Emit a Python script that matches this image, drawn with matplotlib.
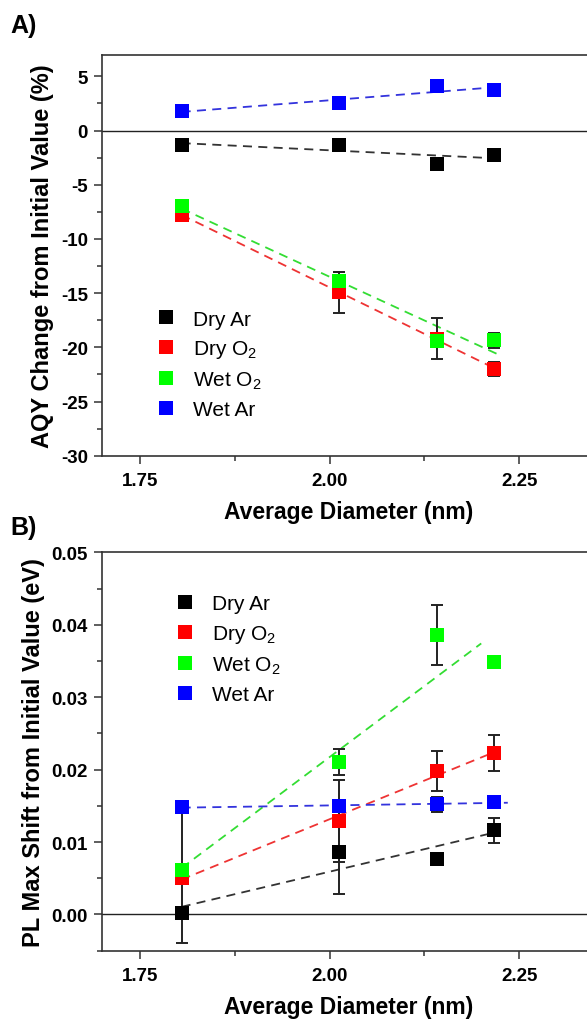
import numpy as np
import matplotlib
matplotlib.use("Agg")
import matplotlib.pyplot as plt
from matplotlib.ticker import MultipleLocator, FormatStrFormatter

plt.rcParams['font.family'] = ['Liberation Sans', 'DejaVu Sans']
plt.rcParams['mathtext.fontset'] = 'custom'
plt.rcParams['mathtext.rm'] = 'Liberation Sans'
plt.rcParams['mathtext.it'] = 'Liberation Sans:italic'
plt.rcParams['mathtext.bf'] = 'Liberation Sans:bold'
plt.rcParams['axes.unicode_minus'] = False

# ---------------- data ----------------
diameter = [1.805, 2.012, 2.142, 2.217]
labels = ["Dry Ar", "Dry O$_2$", "Wet O$_2$", "Wet Ar"]
colors = ["#000000", "#ff0000", "#00ff00", "#0000ff"]
line_colors = ["#333333", "#ee3333", "#33dd33", "#3333dd"]

# Panel A: AQY change (%)
dry_ar_a = [-1.30, -1.30, -3.06, -2.22]
dry_o2_a = [-7.78, -14.94, -19.20, -22.00]
wet_o2_a = [-6.94, -13.90, -19.44, -19.35]
wet_ar_a = [1.79, 2.53, 4.10, 3.73]
dry_ar_a_err = [0.15, 0.15, 0.15, 0.15]
dry_o2_a_err = [0.3, 1.85, 1.9, 0.6]
wet_o2_a_err = [0.3, 0.85, 0.3, 0.7]
wet_ar_a_err = [0.0, 0.0, 0.0, 0.0]

# Panel B: PL max shift (eV)
dry_ar_b = [0.0002, 0.0086, 0.0076, 0.0116]
dry_o2_b = [0.0051, 0.0129, 0.0198, 0.0223]
wet_o2_b = [0.0062, 0.0210, 0.0386, 0.0349]
wet_ar_b = [0.0148, 0.0150, 0.0152, 0.0155]
dry_ar_b_err = [0.0041, 0.0058, 0.0003, 0.0017]
dry_o2_b_err = [0.0005, 0.0056, 0.0028, 0.0025]
wet_o2_b_err = [0.0005, 0.0018, 0.0041, 0.0005]
wet_ar_b_err_lo = [0.0106, 0.0006, 0.0010, 0.0005]
wet_ar_b_err_hi = [0.0, 0.0006, 0.0010, 0.0005]

# x-extent of the dashed linear-fit lines (start, end) per series
fit_range_a = [(1.805, 2.217), (1.805, 2.217), (1.805, 2.222), (1.805, 2.217)]
fit_range_b = [(1.805, 2.217), (1.805, 2.217), (1.805, 2.200), (1.805, 2.235)]

panel_a = [dry_ar_a, dry_o2_a, wet_o2_a, wet_ar_a]
panel_a_err = [dry_ar_a_err, dry_o2_a_err, wet_o2_a_err, wet_ar_a_err]
panel_b = [dry_ar_b, dry_o2_b, wet_o2_b, wet_ar_b]
panel_b_err = [dry_ar_b_err, dry_o2_b_err, wet_o2_b_err,
               [wet_ar_b_err_lo, wet_ar_b_err_hi]]

W, H = 587, 1020
fig = plt.figure(figsize=(W / 100, H / 100), dpi=100)

def px_axes(left, top, right, bottom):
    return fig.add_axes([left / W, 1 - bottom / H, (right - left) / W, (bottom - top) / H])

axA = px_axes(102, 55.7, 595, 456.7)
axB = px_axes(102, 553.3, 595, 951.7)

def draw(ax, series, errs, fit_ranges, ylim, ymaj, ymin, yfmt, ylabel, leg_anchor):
    x = np.array(diameter)
    ax.axhline(0, color="#222222", lw=1.0, zorder=1)
    handles = []
    for vals, err, fr, c, lc, lab in zip(series, errs, fit_ranges, colors, line_colors, labels):
        y = np.array(vals)
        p = np.polyfit(x, y, 1)
        xf = np.array(fr)
        ax.plot(xf, np.polyval(p, xf), ls=(0, (5, 3.5)), color=lc, lw=1.3, zorder=2)
        ax.errorbar(x, y, yerr=err, fmt='none', ecolor="#222222", elinewidth=1.4,
                    capsize=4, capthick=1.4, zorder=3)
        h, = ax.plot(x, y, 's', color=c, markersize=9.5, markeredgewidth=0, zorder=4, label=lab)
        handles.append(h)
    ax.set_xlim(1.70, 2.35)
    ax.set_ylim(*ylim)
    ax.xaxis.set_major_locator(MultipleLocator(0.25))
    ax.xaxis.set_minor_locator(MultipleLocator(0.125))
    ax.yaxis.set_major_locator(MultipleLocator(ymaj))
    ax.yaxis.set_minor_locator(MultipleLocator(ymin))
    ax.xaxis.set_major_formatter(FormatStrFormatter('%.2f'))
    ax.yaxis.set_major_formatter(FormatStrFormatter(yfmt))
    ax.tick_params(which='both', direction='out', top=False, right=False, width=1.1, color="#333333")
    ax.tick_params(which='major', length=6, labelsize=13.5, pad=4)
    ax.tick_params(axis='x', which='major', pad=6)
    ax.tick_params(which='minor', length=3.5)
    for t in ax.get_xticklabels() + ax.get_yticklabels():
        t.set_fontweight('bold')
    for s in ['left', 'bottom', 'top']:
        ax.spines[s].set_linewidth(1.2)
        ax.spines[s].set_color("#333333")
    ax.spines['right'].set_visible(False)
    ax.set_xlabel("Average Diameter (nm)", fontsize=16.5, fontweight='bold', labelpad=8)
    ax.set_ylabel(ylabel, fontsize=17, fontweight='bold', labelpad=5)
    ax.legend(handles=handles, loc='upper left', bbox_to_anchor=leg_anchor,
              frameon=False, fontsize=15, handlelength=0.8, handletextpad=0.9,
              labelspacing=0.45, borderaxespad=0)
    return ax

draw(axA, panel_a, panel_a_err, fit_range_a, (-30, 7), 5, 2.5, '%g',
     "AQY Change from Initial Value (%)", (0.095, 0.385))
draw(axB, panel_b, panel_b_err, fit_range_b, (-0.005, 0.05), 0.01, 0.005, '%.2f',
     "PL Max Shift from Initial Value (eV)", (0.135, 0.915))

fig.text(10 / W, 1 - 33 / H, "A)", fontsize=18, fontweight='bold')
fig.text(10 / W, 1 - 535 / H, "B)", fontsize=18, fontweight='bold')

fig.savefig("out.png", dpi=100)
